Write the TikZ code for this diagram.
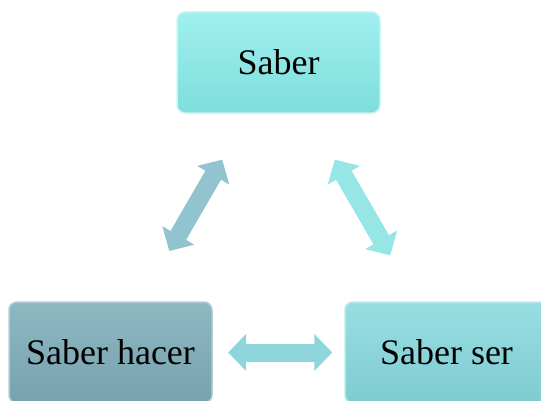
\documentclass[tikz,border=0pt]{standalone}
\usepackage{fontspec}
\setmainfont{Liberation Serif}
\usepackage{tikz}
\usetikzlibrary{arrows.meta,positioning,calc}
\definecolor{saberTop}{HTML}{A0F0EE}
\definecolor{saberBot}{HTML}{7EDEDC}
\definecolor{hacerTop}{HTML}{8EB8C2}
\definecolor{hacerBot}{HTML}{76A2AE}
\definecolor{serTop}{HTML}{98DEE2}
\definecolor{serBot}{HTML}{7ECCD2}
\definecolor{arrowGrey}{HTML}{92C4CF}
\definecolor{arrowCyan}{HTML}{96E6E6}
\definecolor{arrowMid}{HTML}{8ED6DC}
\tikzset{
block/.style = {rectangle, rounded corners=8pt, minimum width=203pt, minimum height=101pt,
  line width=1.5pt, font=\fontsize{36}{40}\selectfont},
twoway/.style = {line width=18pt,
  {Triangle[length=18pt,width=36pt]}-{Triangle[length=18pt,width=36pt]}}
}
\begin{document}
\begin{tikzpicture}[x=1pt, y=1pt]
		\useasboundingbox (0,0) rectangle (541,400);
		\node [block, top color=saberTop, bottom color=saberBot, draw=saberTop!60!white] (saber) at (278.5,337.5) {Saber};
		\node [block, top color=hacerTop, bottom color=hacerBot, draw=hacerTop!70!white] (hacer) at (110.5,47.5) {Saber hacer};
		\node [block, top color=serTop, bottom color=serBot, draw=serTop!70!white] (ser) at (446.5,47.5) {Saber ser};

		\draw [twoway, draw=arrowGrey] ($(hacer)!0.35!(saber)$) -- ($(hacer)!0.665!(saber)$);
		\draw [twoway, draw=arrowCyan] ($(saber)!0.335!(ser)$) -- ($(saber)!0.665!(ser)$);
		\draw [twoway, draw=arrowMid] ($(hacer)!0.35!(ser)$) -- ($(hacer)!0.66!(ser)$);
\end{tikzpicture}
\end{document}
